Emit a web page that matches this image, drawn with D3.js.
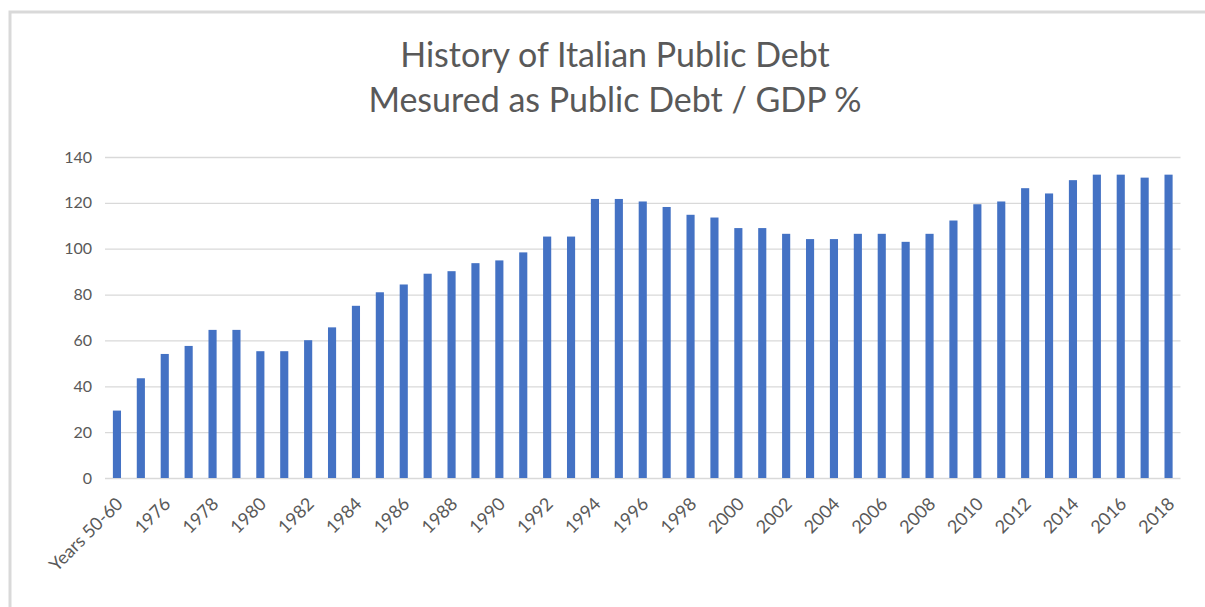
<!DOCTYPE html>
<html>
<head>
<meta charset="utf-8">
<script src="https://cdn.jsdelivr.net/npm/d3@7"></script>
<style>
  body { margin: 0; background: #fff; }
  text { font-family: Lato, "Open Sans", sans-serif; fill: #595959; }
</style>
</head>
<body>
<div class="container"></div>
<script>
const WIDTH = 1205;
const HEIGHT = 607;

const PLOT_LEFT = 105;
const PLOT_RIGHT = 1180.5;
const PLOT_TOP = 157;
const PLOT_BOTTOM = 478;

// categories: first bar is the 50s-60s average, then each year 1975..2018
const categories = ['Years 50-60', '1975', '1976', '1977', '1978', '1979', '1980', '1981',
  '1982', '1983', '1984', '1985', '1986', '1987', '1988', '1989', '1990', '1991', '1992',
  '1993', '1994', '1995', '1996', '1997', '1998', '1999', '2000', '2001', '2002', '2003',
  '2004', '2005', '2006', '2007', '2008', '2009', '2010', '2011', '2012', '2013', '2014',
  '2015', '2016', '2017', '2018'];

const debtToGdp = [29.4, 43.5, 54.1, 57.6, 64.6, 64.6, 55.3, 55.3, 60.1, 65.7, 75.1,
  81.0, 84.4, 89.1, 90.2, 93.7, 94.9, 98.4, 105.3, 105.3, 121.7, 121.7, 120.6, 118.2,
  114.8, 113.6, 109.0, 109.0, 106.5, 104.2, 104.2, 106.5, 106.5, 103.0, 106.5, 112.3,
  119.4, 120.6, 126.4, 124.1, 129.9, 132.3, 132.3, 131.0, 132.3];

const yTicks = [0, 20, 40, 60, 80, 100, 120, 140];

const titleLines = ['History of Italian Public Debt', 'Mesured as Public Debt / GDP %'];

var svg = d3.select('.container').append('svg')
  .attr('width', WIDTH)
  .attr('height', HEIGHT);

// frame (only top and left edges show in the screenshot)
svg.append('path')
  .attr('d', 'M10,' + HEIGHT + 'V12H' + WIDTH)
  .attr('fill', 'none')
  .attr('stroke', '#d9d9d9')
  .attr('stroke-width', 3);

var x = d3.scaleBand()
  .domain(categories)
  .range([PLOT_LEFT, PLOT_RIGHT])
  .paddingInner(0.66)
  .paddingOuter(0.33);

var y = d3.scaleLinear()
  .domain([0, 140])
  .range([PLOT_BOTTOM, PLOT_TOP]);

// gridlines + y labels
var yAxis = d3.axisLeft(y)
  .tickValues(yTicks)
  .tickSize(-(PLOT_RIGHT - PLOT_LEFT))
  .tickPadding(13);

var gy = svg.append('g')
  .attr('transform', 'translate(' + PLOT_LEFT + ',0)')
  .call(yAxis);
gy.select('.domain').remove();
gy.selectAll('.tick line').attr('stroke', '#d9d9d9').attr('stroke-width', 1.3);
gy.selectAll('.tick text')
  .style('font-size', '16px')
  .attr('fill', '#595959');

// bars
svg.append('g').selectAll('rect')
  .data(debtToGdp)
  .enter().append('rect')
  .attr('x', function (d, i) { return x(categories[i]); })
  .attr('y', function (d) { return y(d); })
  .attr('width', x.bandwidth())
  .attr('height', function (d) { return y(0) - y(d); })
  .attr('fill', '#4472c4');

// x labels, every other category
var xAxis = d3.axisBottom(x)
  .tickValues(categories.filter(function (c, i) { return i % 2 === 0; }))
  .tickSize(0);

var gx = svg.append('g')
  .attr('transform', 'translate(0,' + PLOT_BOTTOM + ')')
  .call(xAxis);
gx.select('.domain').remove();
gx.selectAll('.tick text')
  .style('font-size', '18px')
  .attr('fill', '#595959')
  .attr('text-anchor', 'end')
  .attr('dy', null)
  .attr('y', 0)
  .attr('transform', 'translate(7,27) rotate(-45)');

// title
svg.append('g').selectAll('text')
  .data(titleLines)
  .enter().append('text')
  .attr('x', 615)
  .attr('y', function (d, i) { return 67 + i * 45; })
  .attr('text-anchor', 'middle')
  .style('font-size', '34px')
  .text(function (d) { return d; });
</script>
</body>
</html>
